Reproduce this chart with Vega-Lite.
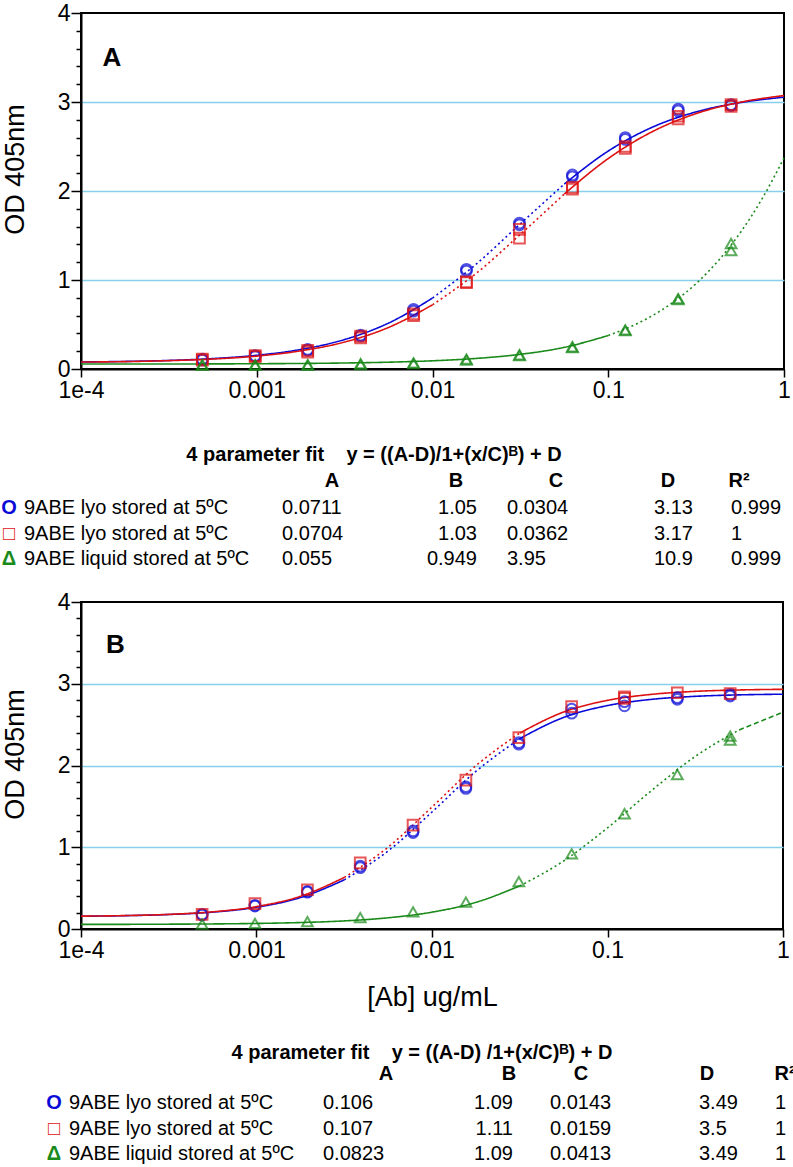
{
  "$schema": "https://vega.github.io/schema/vega-lite/v6.json",
  "background": "white",
  "padding": {"left": 0, "right": 0, "top": 1, "bottom": 0},
  "spacing": 20,
  "config": {
    "font": "Liberation Sans",
    "view": {"stroke": "black", "strokeWidth": 2},
    "legend": {"disable": true},
    "axis": {
      "labelFont": "Liberation Sans", "titleFont": "Liberation Sans",
      "labelFontSize": 23, "titleFontSize": 27, "titleFontWeight": "normal",
      "labelColor": "#000", "titleColor": "#000",
      "domainColor": "#000", "domainWidth": 2,
      "tickColor": "#000", "tickWidth": 1.5,
      "gridColor": "#87cfea", "gridWidth": 1.3
    }
  },
  "datasets": {
    "cA": [
      {"s":"b","g":"b1","d":"solid","x":0.0001,"y":0.079},{"s":"b","g":"b1","d":"solid","x":0.0001778,"y":0.085},{"s":"b","g":"b1","d":"solid","x":0.0003162,"y":0.096},{"s":"b","g":"b1","d":"solid","x":0.0005623,"y":0.117},{"s":"b","g":"b1","d":"solid","x":0.001,"y":0.154},{"s":"b","g":"b1","d":"solid","x":0.001778,"y":0.219},{"s":"b","g":"b1","d":"solid","x":0.003162,"y":0.331},{"s":"b","g":"b1","d":"solid","x":0.005623,"y":0.516},{"s":"b","g":"b1","d":"solid","x":0.01,"y":0.797},
      {"s":"b","g":"b2","d":"dot","x":0.01,"y":0.797},{"s":"b","g":"b2","d":"dot","x":0.01778,"y":1.181},{"s":"b","g":"b2","d":"dot","x":0.03162,"y":1.632},{"s":"b","g":"b2","d":"dot","x":0.05623,"y":2.078},
      {"s":"b","g":"b3","d":"solid","x":0.05623,"y":2.078},{"s":"b","g":"b3","d":"solid","x":0.1,"y":2.449},{"s":"b","g":"b3","d":"solid","x":0.1778,"y":2.716},{"s":"b","g":"b3","d":"solid","x":0.3162,"y":2.889},{"s":"b","g":"b3","d":"solid","x":0.5623,"y":2.993},{"s":"b","g":"b3","d":"solid","x":1,"y":3.054},
      {"s":"r","g":"r1","d":"solid","x":0.0001,"y":0.078},{"s":"r","g":"r1","d":"solid","x":0.0001778,"y":0.083},{"s":"r","g":"r1","d":"solid","x":0.0003162,"y":0.094},{"s":"r","g":"r1","d":"solid","x":0.0005623,"y":0.112},{"s":"r","g":"r1","d":"solid","x":0.001,"y":0.145},{"s":"r","g":"r1","d":"solid","x":0.001778,"y":0.204},{"s":"r","g":"r1","d":"solid","x":0.003162,"y":0.303},{"s":"r","g":"r1","d":"solid","x":0.005623,"y":0.467},{"s":"r","g":"r1","d":"solid","x":0.01,"y":0.721},
      {"s":"r","g":"r2","d":"dot","x":0.01,"y":0.721},{"s":"r","g":"r2","d":"dot","x":0.01778,"y":1.077},{"s":"r","g":"r2","d":"dot","x":0.03162,"y":1.513},{"s":"r","g":"r2","d":"dot","x":0.05623,"y":1.966},
      {"s":"r","g":"r3","d":"solid","x":0.05623,"y":1.966},{"s":"r","g":"r3","d":"solid","x":0.1,"y":2.365},{"s":"r","g":"r3","d":"solid","x":0.1778,"y":2.666},{"s":"r","g":"r3","d":"solid","x":0.3162,"y":2.870},{"s":"r","g":"r3","d":"solid","x":0.5623,"y":2.997},{"s":"r","g":"r3","d":"solid","x":1,"y":3.072},
      {"s":"g","g":"g1","d":"solid","x":0.0001,"y":0.0555},{"s":"g","g":"g1","d":"solid","x":0.0001778,"y":0.0558},{"s":"g","g":"g1","d":"solid","x":0.0003162,"y":0.0564},{"s":"g","g":"g1","d":"solid","x":0.0005623,"y":0.0574},{"s":"g","g":"g1","d":"solid","x":0.001,"y":0.0592},{"s":"g","g":"g1","d":"solid","x":0.001778,"y":0.0622},{"s":"g","g":"g1","d":"solid","x":0.003162,"y":0.0675},{"s":"g","g":"g1","d":"solid","x":0.005623,"y":0.0765},{"s":"g","g":"g1","d":"solid","x":0.01,"y":0.0921},{"s":"g","g":"g1","d":"solid","x":0.01778,"y":0.1189},{"s":"g","g":"g1","d":"solid","x":0.03162,"y":0.1649},{"s":"g","g":"g1","d":"solid","x":0.05623,"y":0.2434},{"s":"g","g":"g1","d":"solid","x":0.1,"y":0.3764},
      {"s":"g","g":"g2","d":"dot","x":0.1,"y":0.3764},{"s":"g","g":"g2","d":"dot","x":0.1778,"y":0.598},{"s":"g","g":"g2","d":"dot","x":0.2371,"y":0.758},{"s":"g","g":"g2","d":"dot","x":0.3162,"y":0.960},{"s":"g","g":"g2","d":"dot","x":0.4217,"y":1.215},{"s":"g","g":"g2","d":"dot","x":0.5623,"y":1.528},{"s":"g","g":"g2","d":"dot","x":0.7499,"y":1.912},{"s":"g","g":"g2","d":"dot","x":1,"y":2.371}
    ],
    "pA": [
      {"s":"b","x":0.00049,"y":0.10},{"s":"b","x":0.00049,"y":0.11},{"s":"b","x":0.00098,"y":0.14},{"s":"b","x":0.00098,"y":0.15},{"s":"b","x":0.00195,"y":0.21},{"s":"b","x":0.00195,"y":0.22},{"s":"b","x":0.0039,"y":0.37},{"s":"b","x":0.0039,"y":0.38},{"s":"b","x":0.0078,"y":0.65},{"s":"b","x":0.0078,"y":0.67},{"s":"b","x":0.0156,"y":1.10},{"s":"b","x":0.0156,"y":1.12},{"s":"b","x":0.03125,"y":1.62},{"s":"b","x":0.03125,"y":1.64},{"s":"b","x":0.0625,"y":2.16},{"s":"b","x":0.0625,"y":2.18},{"s":"b","x":0.125,"y":2.58},{"s":"b","x":0.125,"y":2.60},{"s":"b","x":0.25,"y":2.90},{"s":"b","x":0.25,"y":2.92},{"s":"b","x":0.5,"y":2.96},{"s":"b","x":0.5,"y":2.97},
      {"s":"r","x":0.00049,"y":0.10},{"s":"r","x":0.00049,"y":0.11},{"s":"r","x":0.00098,"y":0.14},{"s":"r","x":0.00098,"y":0.15},{"s":"r","x":0.00195,"y":0.19},{"s":"r","x":0.00195,"y":0.21},{"s":"r","x":0.0039,"y":0.35},{"s":"r","x":0.0039,"y":0.37},{"s":"r","x":0.0078,"y":0.60},{"s":"r","x":0.0078,"y":0.62},{"s":"r","x":0.0156,"y":0.97},{"s":"r","x":0.0156,"y":0.98},{"s":"r","x":0.03125,"y":1.47},{"s":"r","x":0.03125,"y":1.57},{"s":"r","x":0.0625,"y":2.02},{"s":"r","x":0.0625,"y":2.04},{"s":"r","x":0.125,"y":2.48},{"s":"r","x":0.125,"y":2.50},{"s":"r","x":0.25,"y":2.81},{"s":"r","x":0.25,"y":2.84},{"s":"r","x":0.5,"y":2.95},{"s":"r","x":0.5,"y":2.97},
      {"s":"g","x":0.00049,"y":0.04},{"s":"g","x":0.00049,"y":0.05},{"s":"g","x":0.00098,"y":0.04},{"s":"g","x":0.00098,"y":0.05},{"s":"g","x":0.00195,"y":0.04},{"s":"g","x":0.00195,"y":0.05},{"s":"g","x":0.0039,"y":0.05},{"s":"g","x":0.0039,"y":0.06},{"s":"g","x":0.0078,"y":0.06},{"s":"g","x":0.0078,"y":0.07},{"s":"g","x":0.0156,"y":0.10},{"s":"g","x":0.0156,"y":0.11},{"s":"g","x":0.03125,"y":0.15},{"s":"g","x":0.03125,"y":0.16},{"s":"g","x":0.0625,"y":0.24},{"s":"g","x":0.0625,"y":0.25},{"s":"g","x":0.125,"y":0.43},{"s":"g","x":0.125,"y":0.44},{"s":"g","x":0.25,"y":0.78},{"s":"g","x":0.25,"y":0.79},{"s":"g","x":0.5,"y":1.33},{"s":"g","x":0.5,"y":1.41}
    ],
    "tA": [
      {"row":0,"col":4,"t":"4 parameter fit\u00a0\u00a0\u00a0\u00a0y = ((A-D)/1+(x/C)ᴮ) + D"},
      {"row":1,"col":3,"t":"A"},{"row":1,"col":5,"t":"B"},{"row":1,"col":8,"t":"C"},{"row":1,"col":10,"t":"D"},{"row":1,"col":12,"t":"R²"},
      {"row":2,"col":0,"t":"O","s":"b"},{"row":2,"col":1,"t":"9ABE lyo stored at 5ºC"},{"row":2,"col":2,"t":"0.0711"},{"row":2,"col":6,"t":"1.05"},{"row":2,"col":7,"t":"0.0304"},{"row":2,"col":9,"t":"3.13"},{"row":2,"col":11,"t":"0.999"},
      {"row":3,"col":0,"t":"□","s":"r"},{"row":3,"col":1,"t":"9ABE lyo stored at 5ºC"},{"row":3,"col":2,"t":"0.0704"},{"row":3,"col":6,"t":"1.03"},{"row":3,"col":7,"t":"0.0362"},{"row":3,"col":9,"t":"3.17"},{"row":3,"col":11,"t":"1"},
      {"row":4,"col":0,"t":"Δ","s":"g"},{"row":4,"col":1,"t":"9ABE liquid stored at 5ºC"},{"row":4,"col":2,"t":"0.055"},{"row":4,"col":6,"t":"0.949"},{"row":4,"col":7,"t":"3.95"},{"row":4,"col":9,"t":"10.9"},{"row":4,"col":11,"t":"0.999"}
    ],
    "cB": [
      {"s":"b","g":"b1","d":"solid","x":0.0001,"y":0.156},{"s":"b","g":"b1","d":"solid","x":0.0001778,"y":0.163},{"s":"b","g":"b1","d":"solid","x":0.0003162,"y":0.177},{"s":"b","g":"b1","d":"solid","x":0.0005623,"y":0.206},{"s":"b","g":"b1","d":"solid","x":0.001,"y":0.266},{"s":"b","g":"b1","d":"solid","x":0.001778,"y":0.384},{"s":"b","g":"b1","d":"solid","x":0.003162,"y":0.601},
      {"s":"b","g":"b2","d":"dot","x":0.003162,"y":0.601},{"s":"b","g":"b2","d":"dot","x":0.005623,"y":0.955},{"s":"b","g":"b2","d":"dot","x":0.01,"y":1.431},{"s":"b","g":"b2","d":"dot","x":0.01778,"y":1.928},{"s":"b","g":"b2","d":"dot","x":0.03162,"y":2.328},
      {"s":"b","g":"b3","d":"solid","x":0.03162,"y":2.328},{"s":"b","g":"b3","d":"solid","x":0.05623,"y":2.588},{"s":"b","g":"b3","d":"solid","x":0.1,"y":2.733},{"s":"b","g":"b3","d":"solid","x":0.1778,"y":2.809},{"s":"b","g":"b3","d":"solid","x":0.3162,"y":2.846},{"s":"b","g":"b3","d":"solid","x":0.5623,"y":2.864},{"s":"b","g":"b3","d":"solid","x":1,"y":2.872},
      {"s":"r","g":"r1","d":"solid","x":0.0001,"y":0.157},{"s":"r","g":"r1","d":"solid","x":0.0001778,"y":0.164},{"s":"r","g":"r1","d":"solid","x":0.0003162,"y":0.179},{"s":"r","g":"r1","d":"solid","x":0.0005623,"y":0.210},{"s":"r","g":"r1","d":"solid","x":0.001,"y":0.274},{"s":"r","g":"r1","d":"solid","x":0.001778,"y":0.400},{"s":"r","g":"r1","d":"solid","x":0.003162,"y":0.630},
      {"s":"r","g":"r2","d":"dot","x":0.003162,"y":0.630},{"s":"r","g":"r2","d":"dot","x":0.005623,"y":1.001},{"s":"r","g":"r2","d":"dot","x":0.01,"y":1.492},{"s":"r","g":"r2","d":"dot","x":0.01778,"y":1.997},{"s":"r","g":"r2","d":"dot","x":0.03162,"y":2.397},
      {"s":"r","g":"r3","d":"solid","x":0.03162,"y":2.397},{"s":"r","g":"r3","d":"solid","x":0.05623,"y":2.654},{"s":"r","g":"r3","d":"solid","x":0.1,"y":2.797},{"s":"r","g":"r3","d":"solid","x":0.1778,"y":2.870},{"s":"r","g":"r3","d":"solid","x":0.3162,"y":2.907},{"s":"r","g":"r3","d":"solid","x":0.5623,"y":2.924},{"s":"r","g":"r3","d":"solid","x":1,"y":2.932},
      {"s":"g","g":"g1","d":"solid","x":0.0001,"y":0.056},{"s":"g","g":"g1","d":"solid","x":0.0001778,"y":0.057},{"s":"g","g":"g1","d":"solid","x":0.0003162,"y":0.059},{"s":"g","g":"g1","d":"solid","x":0.0005623,"y":0.062},{"s":"g","g":"g1","d":"solid","x":0.001,"y":0.068},{"s":"g","g":"g1","d":"solid","x":0.001778,"y":0.079},{"s":"g","g":"g1","d":"solid","x":0.003162,"y":0.099},{"s":"g","g":"g1","d":"solid","x":0.005623,"y":0.137},{"s":"g","g":"g1","d":"solid","x":0.01,"y":0.206},{"s":"g","g":"g1","d":"solid","x":0.01778,"y":0.326},{"s":"g","g":"g1","d":"solid","x":0.03162,"y":0.527},
      {"s":"g","g":"g2","d":"dot","x":0.03162,"y":0.527},{"s":"g","g":"g2","d":"dot","x":0.05623,"y":0.832},{"s":"g","g":"g2","d":"dot","x":0.1,"y":1.238},{"s":"g","g":"g2","d":"dot","x":0.1778,"y":1.692},{"s":"g","g":"g2","d":"dot","x":0.3162,"y":2.111},{"s":"g","g":"g2","d":"dot","x":0.5623,"y":2.435},
      {"s":"g","g":"g3","d":"dash","x":0.5623,"y":2.435},{"s":"g","g":"g3","d":"dash","x":1,"y":2.652}
    ],
    "pB": [
      {"s":"b","x":0.00049,"y":0.17},{"s":"b","x":0.00049,"y":0.18},{"s":"b","x":0.00098,"y":0.28},{"s":"b","x":0.00098,"y":0.29},{"s":"b","x":0.00195,"y":0.45},{"s":"b","x":0.00195,"y":0.46},{"s":"b","x":0.0039,"y":0.75},{"s":"b","x":0.0039,"y":0.77},{"s":"b","x":0.0078,"y":1.18},{"s":"b","x":0.0078,"y":1.20},{"s":"b","x":0.0156,"y":1.72},{"s":"b","x":0.0156,"y":1.74},{"s":"b","x":0.03125,"y":2.26},{"s":"b","x":0.03125,"y":2.28},{"s":"b","x":0.0625,"y":2.64},{"s":"b","x":0.0625,"y":2.69},{"s":"b","x":0.125,"y":2.73},{"s":"b","x":0.125,"y":2.78},{"s":"b","x":0.25,"y":2.81},{"s":"b","x":0.25,"y":2.83},{"s":"b","x":0.5,"y":2.85},{"s":"b","x":0.5,"y":2.87},
      {"s":"r","x":0.00049,"y":0.18},{"s":"r","x":0.00098,"y":0.31},{"s":"r","x":0.00195,"y":0.48},{"s":"r","x":0.0039,"y":0.81},{"s":"r","x":0.0078,"y":1.27},{"s":"r","x":0.0156,"y":1.82},{"s":"r","x":0.03125,"y":2.34},{"s":"r","x":0.0625,"y":2.72},{"s":"r","x":0.125,"y":2.82},{"s":"r","x":0.125,"y":2.84},{"s":"r","x":0.25,"y":2.89},{"s":"r","x":0.5,"y":2.88},
      {"s":"g","x":0.00049,"y":0.06},{"s":"g","x":0.00098,"y":0.07},{"s":"g","x":0.00195,"y":0.09},{"s":"g","x":0.0039,"y":0.14},{"s":"g","x":0.0078,"y":0.21},{"s":"g","x":0.0156,"y":0.33},{"s":"g","x":0.03125,"y":0.58},{"s":"g","x":0.0625,"y":0.92},{"s":"g","x":0.125,"y":1.41},{"s":"g","x":0.25,"y":1.89},{"s":"g","x":0.5,"y":2.31},{"s":"g","x":0.5,"y":2.36}
    ],
    "tB": [
      {"row":0,"col":4,"t":"4 parameter fit\u00a0\u00a0\u00a0\u00a0y = ((A-D) /1+(x/C)ᴮ) + D"},
      {"row":1,"col":3,"t":"A"},{"row":1,"col":5,"t":"B"},{"row":1,"col":8,"t":"C"},{"row":1,"col":10,"t":"D"},{"row":1,"col":12,"t":"R²"},
      {"row":2,"col":0,"t":"O","s":"b"},{"row":2,"col":1,"t":"9ABE lyo stored at 5ºC"},{"row":2,"col":2,"t":"0.106"},{"row":2,"col":6,"t":"1.09"},{"row":2,"col":7,"t":"0.0143"},{"row":2,"col":9,"t":"3.49"},{"row":2,"col":11,"t":"1"},
      {"row":3,"col":0,"t":"□","s":"r"},{"row":3,"col":1,"t":"9ABE lyo stored at 5ºC"},{"row":3,"col":2,"t":"0.107"},{"row":3,"col":6,"t":"1.11"},{"row":3,"col":7,"t":"0.0159"},{"row":3,"col":9,"t":"3.5"},{"row":3,"col":11,"t":"1"},
      {"row":4,"col":0,"t":"Δ","s":"g"},{"row":4,"col":1,"t":"9ABE liquid stored at 5ºC"},{"row":4,"col":2,"t":"0.0823"},{"row":4,"col":6,"t":"1.09"},{"row":4,"col":7,"t":"0.0413"},{"row":4,"col":9,"t":"3.49"},{"row":4,"col":11,"t":"1"}
    ]
  },
  "vconcat": [
    {
      "width": 703, "height": 356,
      "layer": [
        {
          "layer": [
            {
              "data": {"name": "cA"},
              "mark": {"type": "line", "interpolate": "monotone", "strokeWidth": 1.6},
              "encoding": {
                "x": {"field": "x", "type": "quantitative", "scale": {"type": "log", "domain": [0.0001, 1], "nice": false},
                      "axis": {"values": [0.0001, 0.001, 0.01, 0.1, 1], "labelExpr": "datum.value < 0.0005 ? '1e-4' : format(datum.value, '~g')", "grid": false, "tickSize": 8, "labelPadding": 2, "labelFlush": false, "labelOverlap": false, "title": null}},
                "y": {"field": "y", "type": "quantitative", "scale": {"domain": [0, 4], "nice": false},
                      "axis": {"orient": "left", "values": [0, 1, 2, 3, 4], "format": "d", "tickSize": 10, "grid": false, "labelPadding": 1, "labelOverlap": false, "title": "OD 405nm", "titlePadding": 28, "titleY": 156}},
                "color": {"field": "s", "type": "nominal", "scale": {"domain": ["b", "r", "g"], "range": ["#0a0ad8", "#dd1111", "#1a8a1a"]}, "legend": null},
                "detail": {"field": "g"},
                "strokeDash": {"field": "d", "type": "nominal", "scale": {"domain": ["solid", "dot", "dash"], "range": [[1, 0], [2, 3], [5, 3]]}, "legend": null}
              }
            },
            {
              "data": {"name": "pA"},
              "mark": {"type": "point", "filled": false, "strokeWidth": 2, "size": 115},
              "encoding": {
                "x": {"field": "x", "type": "quantitative", "scale": {"type": "log", "domain": [0.0001, 1], "nice": false}, "axis": null},
                "y": {"field": "y", "type": "quantitative", "scale": {"domain": [0, 4], "nice": false},
                      "axis": {"orient": "left", "values": [0.2,0.4,0.6,0.8,1.2,1.4,1.6,1.8,2.2,2.4,2.6,2.8,3.2,3.4,3.6,3.8], "tickSize": 5, "labels": false, "domain": false, "grid": false, "title": null}},
                "color": {"field": "s", "type": "nominal", "legend": null},
                "shape": {"field": "s", "type": "nominal", "scale": {"domain": ["b", "r", "g"], "range": ["circle", "square", "triangle-up"]}, "legend": null}
              }
            },
            {
              "data": {"values": [{"p": "A"}]},
              "mark": {"type": "text", "fontSize": 26, "fontWeight": "bold", "font": "Liberation Sans"},
              "encoding": {
                "x": {"datum": 0.00015, "type": "quantitative", "scale": {"type": "log", "domain": [0.0001, 1], "nice": false}, "axis": null},
                "y": {"datum": 3.49, "type": "quantitative", "scale": {"domain": [0, 4], "nice": false},
                      "axis": {"orient": "left", "values": [1, 2, 3], "grid": true, "ticks": false, "labels": false, "domain": false, "title": null}},
                "text": {"field": "p"}
              }
            }
          ],
          "resolve": {"axis": {"x": "independent", "y": "independent"}}
        },
        {
          "data": {"name": "tA"},
          "encoding": {
            "x": {"field": "col", "type": "quantitative", "axis": null, "scale": {"domain": [0,1,2,3,4,5,6,7,8,9,10,11,12], "range": [-72,-57,201,251,293,375,396,426,475,573,587,650,658], "nice": false, "zero": false}},
            "y": {"field": "row", "type": "quantitative", "axis": null, "scale": {"domain": [0,1,2,3,4], "range": [442,468,495,521,546], "nice": false, "zero": false}},
            "text": {"field": "t"}
          },
          "layer": [
            {"transform": [{"filter": "datum.col === 0"}], "mark": {"type": "text", "fontSize": 20, "fontWeight": "bold", "align": "center", "baseline": "middle"}, "encoding": {"color": {"field": "s", "type": "nominal", "legend": null}}},
            {"transform": [{"filter": "indexof([1,2,7,9,11], datum.col) >= 0"}], "mark": {"type": "text", "fontSize": 20, "align": "left", "baseline": "middle", "color": "#000"}},
            {"transform": [{"filter": "datum.col === 6"}], "mark": {"type": "text", "fontSize": 20, "align": "right", "baseline": "middle", "color": "#000"}},
            {"transform": [{"filter": "indexof([3,4,5,8,10,12], datum.col) >= 0"}], "mark": {"type": "text", "fontSize": 20, "fontWeight": "bold", "align": "center", "baseline": "middle", "color": "#000"}}
          ]
        }
      ],
      "resolve": {"scale": {"x": "independent", "y": "independent"}}
    },
    {
      "width": 702, "height": 327,
      "layer": [
        {
          "layer": [
            {
              "data": {"name": "cB"},
              "mark": {"type": "line", "interpolate": "monotone", "strokeWidth": 1.6},
              "encoding": {
                "x": {"field": "x", "type": "quantitative", "scale": {"type": "log", "domain": [0.0001, 1], "nice": false},
                      "axis": {"values": [0.0001, 0.001, 0.01, 0.1, 1], "labelExpr": "datum.value < 0.0005 ? '1e-4' : format(datum.value, '~g')", "grid": false, "tickSize": 8, "labelPadding": 2, "labelFlush": false, "labelOverlap": false, "title": "[Ab] ug/mL", "titlePadding": 22}},
                "y": {"field": "y", "type": "quantitative", "scale": {"domain": [0, 4], "nice": false},
                      "axis": {"orient": "left", "values": [0, 1, 2, 3, 4], "format": "d", "tickSize": 10, "grid": false, "labelPadding": 1, "labelOverlap": false, "title": "OD 405nm", "titlePadding": 28, "titleY": 152}},
                "color": {"field": "s", "type": "nominal", "scale": {"domain": ["b", "r", "g"], "range": ["#0a0ad8", "#dd1111", "#1a8a1a"]}, "legend": null},
                "detail": {"field": "g"},
                "strokeDash": {"field": "d", "type": "nominal", "scale": {"domain": ["solid", "dot", "dash"], "range": [[1, 0], [2, 3], [5, 3]]}, "legend": null}
              }
            },
            {
              "data": {"name": "pB"},
              "mark": {"type": "point", "filled": false, "strokeWidth": 2, "size": 115},
              "encoding": {
                "x": {"field": "x", "type": "quantitative", "scale": {"type": "log", "domain": [0.0001, 1], "nice": false}, "axis": null},
                "y": {"field": "y", "type": "quantitative", "scale": {"domain": [0, 4], "nice": false},
                      "axis": {"orient": "left", "values": [0.2,0.4,0.6,0.8,1.2,1.4,1.6,1.8,2.2,2.4,2.6,2.8,3.2,3.4,3.6,3.8], "tickSize": 5, "labels": false, "domain": false, "grid": false, "title": null}},
                "color": {"field": "s", "type": "nominal", "legend": null},
                "shape": {"field": "s", "type": "nominal", "scale": {"domain": ["b", "r", "g"], "range": ["circle", "square", "triangle-up"]}, "legend": null}
              }
            },
            {
              "data": {"values": [{"p": "B"}]},
              "mark": {"type": "text", "fontSize": 26, "fontWeight": "bold", "font": "Liberation Sans"},
              "encoding": {
                "x": {"datum": 0.000157, "type": "quantitative", "scale": {"type": "log", "domain": [0.0001, 1], "nice": false}, "axis": null},
                "y": {"datum": 3.48, "type": "quantitative", "scale": {"domain": [0, 4], "nice": false},
                      "axis": {"orient": "left", "values": [1, 2, 3], "grid": true, "ticks": false, "labels": false, "domain": false, "title": null}},
                "text": {"field": "p"}
              }
            }
          ],
          "resolve": {"axis": {"x": "independent", "y": "independent"}}
        },
        {
          "data": {"name": "tB"},
          "encoding": {
            "x": {"field": "col", "type": "quantitative", "axis": null, "scale": {"domain": [0,1,2,3,4,5,6,7,8,9,10,11,12], "range": [-27,-12,242,305,341,428,432,469,500,618,626,694,704], "nice": false, "zero": false}},
            "y": {"field": "row", "type": "quantitative", "axis": null, "scale": {"domain": [0,1,2,3,4], "range": [451,472,501,527,552], "nice": false, "zero": false}},
            "text": {"field": "t"}
          },
          "layer": [
            {"transform": [{"filter": "datum.col === 0"}], "mark": {"type": "text", "fontSize": 20, "fontWeight": "bold", "align": "center", "baseline": "middle"}, "encoding": {"color": {"field": "s", "type": "nominal", "legend": null}}},
            {"transform": [{"filter": "indexof([1,2,7,9,11], datum.col) >= 0"}], "mark": {"type": "text", "fontSize": 20, "align": "left", "baseline": "middle", "color": "#000"}},
            {"transform": [{"filter": "datum.col === 6"}], "mark": {"type": "text", "fontSize": 20, "align": "right", "baseline": "middle", "color": "#000"}},
            {"transform": [{"filter": "indexof([3,4,5,8,10,12], datum.col) >= 0"}], "mark": {"type": "text", "fontSize": 20, "fontWeight": "bold", "align": "center", "baseline": "middle", "color": "#000"}}
          ]
        }
      ],
      "resolve": {"scale": {"x": "independent", "y": "independent"}}
    }
  ]
}
